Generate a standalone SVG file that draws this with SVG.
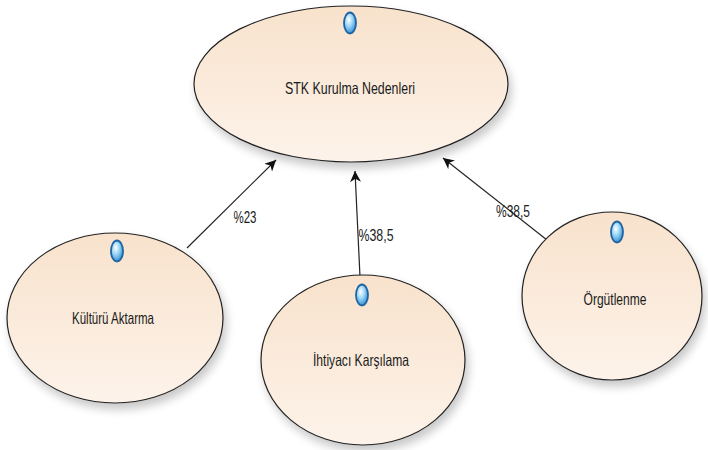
<svg xmlns="http://www.w3.org/2000/svg" width="708" height="450" viewBox="0 0 708 450">
<style>
.node{fill:url(#fillg);stroke:#222;stroke-width:1.2;filter:url(#sh)}
.lbl{font-family:"Liberation Sans",Arial,sans-serif;font-size:16.5px;fill:#1a1a1a;text-anchor:middle;dominant-baseline:central}
.dot{fill:url(#dotg);stroke:#1f64a3;stroke-width:1.8}
.conn{stroke:#222;stroke-width:1.2;fill:none;marker-end:url(#arr)}
.el{font-family:"Liberation Sans",Arial,sans-serif;font-size:16.5px;fill:#1a1a1a;text-anchor:middle;dominant-baseline:central}
</style>
<defs>
<linearGradient id="fillg" x1="0" y1="0" x2="0" y2="1">
<stop offset="0" stop-color="#f8e2cc"/>
<stop offset="1" stop-color="#fdf3ea"/>
</linearGradient>
<radialGradient id="dotg" cx="0.4" cy="0.35" r="0.7">
<stop offset="0" stop-color="#ffffff"/>
<stop offset="0.45" stop-color="#9ad6f7"/>
<stop offset="1" stop-color="#2f86cc"/>
</radialGradient>
<filter id="sh" x="-20%" y="-20%" width="140%" height="150%">
<feGaussianBlur in="SourceAlpha" stdDeviation="5"/>
<feOffset dx="3" dy="6" result="b"/>
<feComponentTransfer><feFuncA type="linear" slope="0.22"/></feComponentTransfer>
<feMerge><feMergeNode/><feMergeNode in="SourceGraphic"/></feMerge>
</filter>
<marker id="arr" viewBox="0 0 10 10" refX="10" refY="5" markerWidth="11" markerHeight="11" markerUnits="userSpaceOnUse" orient="auto">
<path d="M0,0 L10,5 L0,10 L3,5 Z" fill="#111"/>
</marker>
</defs>
<g id="connectors">
<line class="conn" x1="187" y1="248" x2="276" y2="160"/>
<line class="conn" x1="360" y1="277" x2="355" y2="171"/>
<line class="conn" x1="547" y1="240" x2="443" y2="158"/>
<text class="el" x="245" y="217" textLength="23" lengthAdjust="spacingAndGlyphs">%23</text>
<text class="el" x="376" y="235" textLength="35" lengthAdjust="spacingAndGlyphs">%38,5</text>
<text class="el" x="513" y="211" textLength="34" lengthAdjust="spacingAndGlyphs">%38,5</text>
</g>
<g id="stk">
<ellipse class="node" cx="351" cy="84" rx="157" ry="78"/>
<ellipse class="dot" cx="350" cy="23" rx="6" ry="10.5"/>
<text class="lbl" x="350" y="88" textLength="130" lengthAdjust="spacingAndGlyphs">STK Kurulma Nedenleri</text>
</g>
<g id="kultur">
<ellipse class="node" cx="115" cy="318" rx="108" ry="85"/>
<ellipse class="dot" cx="117" cy="251" rx="6" ry="10.5"/>
<text class="lbl" x="113" y="318" textLength="82" lengthAdjust="spacingAndGlyphs">Kültürü Aktarma</text>
</g>
<g id="ihtiyac">
<ellipse class="node" cx="363" cy="360" rx="102" ry="85"/>
<ellipse class="dot" cx="362" cy="295" rx="6" ry="10.5"/>
<text class="lbl" x="361" y="360" textLength="96" lengthAdjust="spacingAndGlyphs">İhtiyacı Karşılama</text>
</g>
<g id="orgut">
<ellipse class="node" cx="612" cy="296" rx="90" ry="84"/>
<ellipse class="dot" cx="617" cy="232" rx="6" ry="10.5"/>
<text class="lbl" x="615" y="299" textLength="63" lengthAdjust="spacingAndGlyphs">Örgütlenme</text>
</g>
</svg>
